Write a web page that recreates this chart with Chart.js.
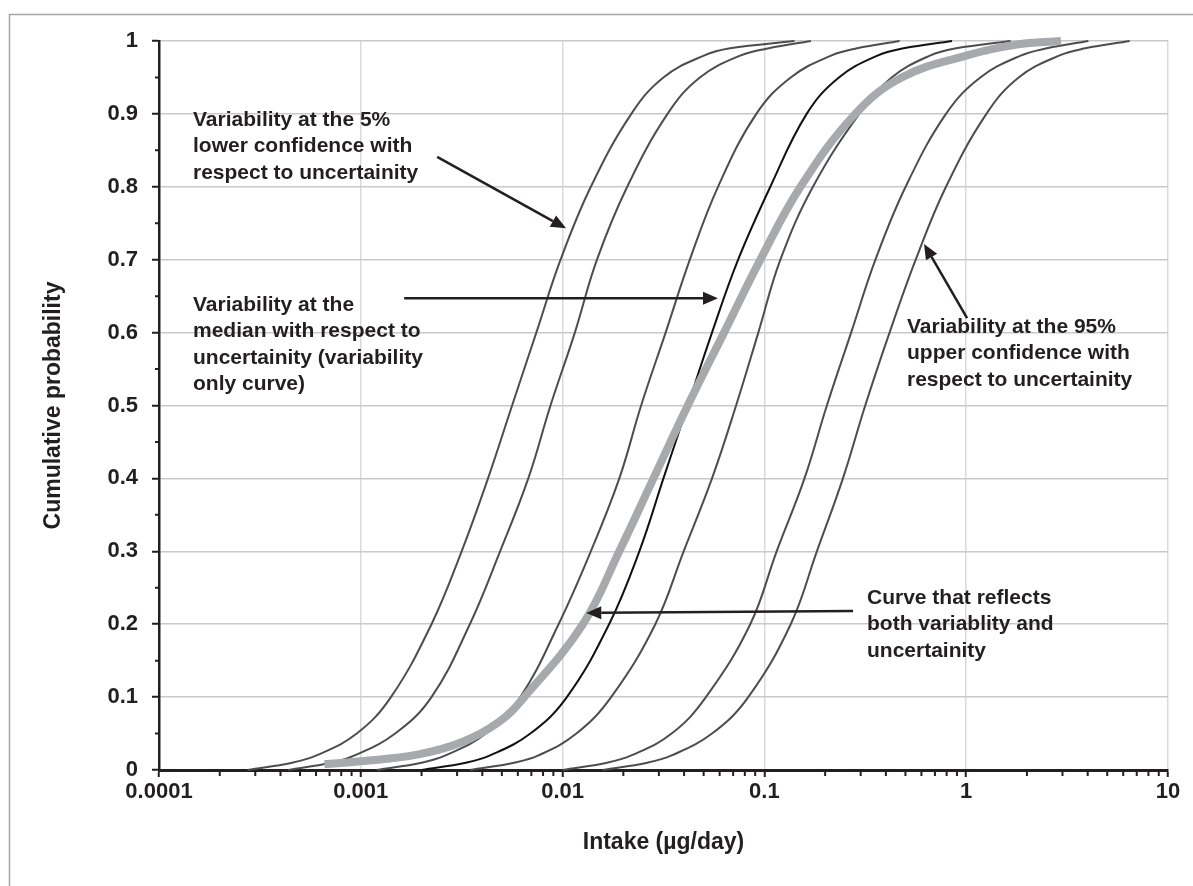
<!DOCTYPE html>
<html>
<head>
<meta charset="utf-8">
<title>Cumulative probability of intake</title>
<script src="https://cdn.jsdelivr.net/npm/chart.js@4.4.1/dist/chart.umd.min.js"></script>
<style>
  html, body { margin: 0; padding: 0; background: #fff; }
  #wrap { width: 1193px; height: 886px; }
</style>
</head>
<body>
<div id="wrap"><canvas id="cdf" width="1193" height="886"></canvas></div>
<script>
(function () {
  'use strict';

  // ── Data ──────────────────────────────────────────────────────────────────
  // Cumulative probability levels shared by the seven variability curves
  const probLevels = [0, 0.01, 0.02, 0.05, 0.1, 0.2, 0.3, 0.4, 0.5, 0.6, 0.7, 0.8, 0.9, 0.95, 0.98, 0.99, 1];

  // Intake (µg/day) at each level, left to right
  const lower5Intake  = [0.000275, 0.000457, 0.000603, 0.000955, 0.00141, 0.00224, 0.00316, 0.00427, 0.00562, 0.00741, 0.00977, 0.0138, 0.0219, 0.0316, 0.0501, 0.0676, 0.141];
  const curve2Intake  = [0.000437, 0.000708, 0.000933, 0.00148, 0.00224, 0.00347, 0.0049, 0.00676, 0.00871, 0.0115, 0.0148, 0.0209, 0.0331, 0.0479, 0.0759, 0.105, 0.170];
  const curve3Intake  = [0.0012, 0.002, 0.00263, 0.00417, 0.00617, 0.00955, 0.0138, 0.0191, 0.0245, 0.0324, 0.0427, 0.0589, 0.0912, 0.135, 0.214, 0.288, 0.468];
  const medianIntake  = [0.002, 0.00331, 0.00437, 0.00692, 0.0105, 0.017, 0.024, 0.0316, 0.0417, 0.055, 0.0741, 0.107, 0.162, 0.234, 0.363, 0.49, 0.851];
  const curve5Intake  = [0.00347, 0.00575, 0.00759, 0.0117, 0.0174, 0.0288, 0.0398, 0.055, 0.0724, 0.0933, 0.12, 0.174, 0.295, 0.427, 0.661, 0.891, 1.66];
  const curve6Intake  = [0.01, 0.0166, 0.0219, 0.0347, 0.0513, 0.0851, 0.115, 0.158, 0.204, 0.269, 0.355, 0.501, 0.794, 1.175, 1.862, 2.512, 4.03];
  const upper95Intake = [0.0158, 0.0263, 0.0347, 0.055, 0.0832, 0.135, 0.182, 0.245, 0.316, 0.417, 0.562, 0.794, 1.259, 1.82, 2.884, 3.89, 6.457];

  // Thick grey curve (variability + uncertainty)
  const combinedLevels = [0.008, 0.012, 0.021, 0.038, 0.065, 0.1, 0.2, 0.3, 0.4, 0.5, 0.6, 0.7, 0.8, 0.9, 0.95, 0.98, 0.995, 1];
  const combinedIntake = [0.00066, 0.001, 0.0019, 0.00316, 0.00479, 0.00646, 0.0126, 0.0191, 0.0282, 0.0417, 0.0631, 0.0955, 0.151, 0.282, 0.479, 1.0, 1.778, 2.95];

  // Axis ticks
  const xTickValues = [0.0001, 0.001, 0.01, 0.1, 1, 10];
  const xTickLabels = ['0.0001', '0.001', '0.01', '0.1', '1', '10'];
  const yTickLabels = ['0', '0.1', '0.2', '0.3', '0.4', '0.5', '0.6', '0.7', '0.8', '0.9', '1'];
  const yMinorTicks = [0.05, 0.15, 0.25, 0.35, 0.45, 0.55, 0.65, 0.75, 0.85, 0.95];
  const xMinorTicks = [];
  xTickValues.slice(0, -1).forEach(d => {
    for (let m = 2; m <= 9; m++) xMinorTicks.push(d * m);
  });

  // ── Annotations ──────────────────────────────────────────────────────────
  const notes = [
    { left: 193, top: 120, lines: ['Variability at the 5%', 'lower confidence with', 'respect to uncertainity'] },
    { left: 193, top: 305, lines: ['Variability at the', 'median with respect to', 'uncertainity (variability', 'only curve)'] },
    { left: 907, top: 327, lines: ['Variability at the 95%', 'upper confidence with', 'respect to uncertainity'] },
    { left: 867, top: 598, lines: ['Curve that reflects', 'both variablity and', 'uncertainity'] },
  ];
  // arrow ends in data units: [intake, probability]
  const arrows = [
    { from: [0.00239, 0.841], to: [0.0104, 0.743] },
    { from: [0.00164, 0.647], to: [0.0589, 0.647] },
    { from: [1.01, 0.62],     to: [0.618, 0.7215] },
    { from: [0.275, 0.218],   to: [0.0131, 0.2154] },
  ];

  // ── Styles ───────────────────────────────────────────────────────────────
  const FONT      = '"Liberation Sans", Arial, Helvetica, sans-serif';
  const INK       = '#231f20';
  const DARK      = '#4d4d4f';
  const NOTE_SIZE = 21;
  const NOTE_LEAD = 26.5;

  function pts(xs, ys) {
    return xs.map((v, i) => ({ x: v, y: ys[i] }));
  }

  function thin(label, xs, colour) {
    return {
      label,
      data: pts(xs, probLevels),
      borderColor: colour || DARK,
      borderWidth: 2,
      pointRadius: 0,
      tension: 0.4,
      clip: false,
      order: 1,
    };
  }

  const datasets = [
    {
      label: 'Variability and uncertainty',
      data: pts(combinedIntake, combinedLevels),
      borderColor: '#a7a9ac',
      borderWidth: 8,
      pointRadius: 0,
      tension: 0.4,
      clip: false,
      order: 0,
    },
    thin('5% lower', lower5Intake),
    thin('curve 2', curve2Intake),
    thin('curve 3', curve3Intake),
    thin('median', medianIntake, '#111111'),
    thin('curve 5', curve5Intake),
    thin('curve 6', curve6Intake),
    thin('95% upper', upper95Intake),
  ];

  // ── Plugins ──────────────────────────────────────────────────────────────
  const framePlugin = {
    id: 'frame',
    beforeDraw(chart) {
      const { ctx, width, height } = chart;
      ctx.save();
      ctx.fillStyle = '#fff';
      ctx.fillRect(0, 0, width, height);
      ctx.strokeStyle = '#a6a6a6';
      ctx.lineWidth = 1.5;
      ctx.beginPath();
      ctx.moveTo(9.5, height);
      ctx.lineTo(9.5, 14.5);
      ctx.lineTo(width, 14.5);
      ctx.stroke();
      ctx.restore();
    },
  };

  const minorTickPlugin = {
    id: 'minorTicks',
    afterDraw(chart) {
      const { ctx, chartArea, scales: { x, y } } = chart;
      ctx.save();
      ctx.strokeStyle = INK;
      ctx.lineWidth = 2;
      ctx.beginPath();
      yMinorTicks.forEach(v => {
        const py = y.getPixelForValue(v);
        ctx.moveTo(chartArea.left - 4, py);
        ctx.lineTo(chartArea.left, py);
      });
      xMinorTicks.forEach(v => {
        const px = x.getPixelForValue(v);
        ctx.moveTo(px, chartArea.bottom);
        ctx.lineTo(px, chartArea.bottom + 6);
      });
      ctx.stroke();
      ctx.restore();
    },
  };

  function drawArrow(ctx, x0, y0, x1, y1) {
    const ang = Math.atan2(y1 - y0, x1 - x0);
    const len = 15, half = 6.5;
    const bx = x1 - Math.cos(ang) * len;
    const by = y1 - Math.sin(ang) * len;
    ctx.beginPath();
    ctx.moveTo(x0, y0);
    ctx.lineTo(bx, by);
    ctx.stroke();
    ctx.beginPath();
    ctx.moveTo(x1, y1);
    ctx.lineTo(bx + Math.sin(ang) * half, by - Math.cos(ang) * half);
    ctx.lineTo(bx - Math.sin(ang) * half, by + Math.cos(ang) * half);
    ctx.closePath();
    ctx.fill();
  }

  const notesPlugin = {
    id: 'notes',
    afterDatasetsDraw(chart) {
      const { ctx, scales: { x, y } } = chart;
      ctx.save();
      ctx.fillStyle = INK;
      ctx.strokeStyle = INK;
      ctx.lineWidth = 2.5;
      ctx.font = `bold ${NOTE_SIZE}px ${FONT}`;
      ctx.textBaseline = 'middle';
      ctx.textAlign = 'left';
      notes.forEach(n => {
        n.lines.forEach((line, i) => ctx.fillText(line, n.left, n.top + i * NOTE_LEAD));
      });
      arrows.forEach(a => {
        drawArrow(ctx,
          x.getPixelForValue(a.from[0]), y.getPixelForValue(a.from[1]),
          x.getPixelForValue(a.to[0]),   y.getPixelForValue(a.to[1]));
      });
      ctx.restore();
    },
  };

  // ── Chart ────────────────────────────────────────────────────────────────
  const tickFont  = { family: FONT, size: 22, weight: 'bold' };
  const titleFont = { family: FONT, size: 23, weight: 'bold' };

  new Chart(document.getElementById('cdf'), {
    type: 'line',
    data: { datasets },
    options: {
      responsive: false,
      devicePixelRatio: 1,
      animation: false,
      layout: { padding: { left: 40, right: 25, top: 41, bottom: 30 } },
      plugins: {
        legend: { display: false },
        tooltip: { enabled: false },
      },
      scales: {
        x: {
          type: 'logarithmic',
          min: 0.0001,
          max: 10,
          afterBuildTicks: s => { s.ticks = xTickValues.map(v => ({ value: v })); },
          afterFit: s => { s.height = 86; },
          grid: { color: '#dadada', lineWidth: 1.5, tickColor: INK, tickLength: 7, tickWidth: 2 },
          border: { color: INK, width: 3 },
          ticks: {
            autoSkip: false,
            maxRotation: 0,
            padding: 2,
            color: INK,
            font: tickFont,
            callback: (v, i) => xTickLabels[i],
          },
          title: { display: true, text: 'Intake (µg/day)', color: INK, font: titleFont, padding: 0 },
        },
        y: {
          type: 'linear',
          min: 0,
          max: 1,
          afterFit: s => { s.width = 119; },
          grid: { color: '#c9c9c9', lineWidth: 1.5, tickColor: INK, tickLength: 7, tickWidth: 2 },
          border: { color: INK, width: 2.5 },
          ticks: {
            stepSize: 0.1,
            padding: 14,
            color: INK,
            font: tickFont,
            callback: (v, i) => yTickLabels[i],
          },
          title: { display: true, text: 'Cumulative probability', color: INK, font: titleFont, padding: 0 },
        },
      },
    },
    plugins: [framePlugin, minorTickPlugin, notesPlugin],
  });
})();
</script>
</body>
</html>
